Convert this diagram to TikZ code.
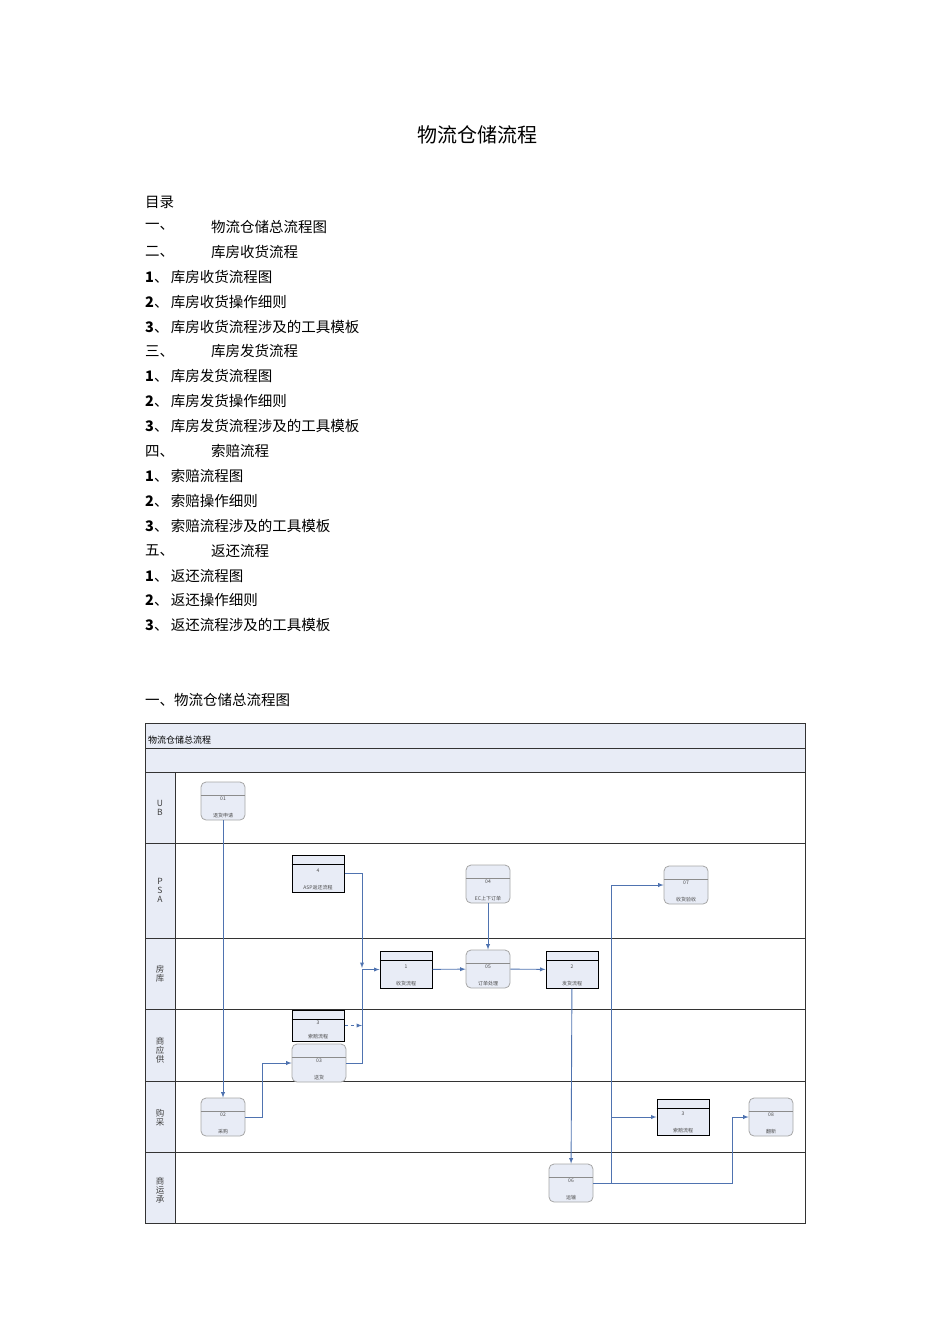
\documentclass[tikz,border=0pt]{standalone}
\usepackage{fontspec}
\setmainfont{Liberation Serif}
\newfontfamily\cjk{Noto Sans CJK SC}
\definecolor{lb}{RGB}{232,236,246}
\definecolor{ln}{RGB}{79,115,176}
\begin{document}
\begin{tikzpicture}[x=1pt,y=-1pt,
  fl/.style={draw=black!80,line width=0.5pt,fill=lb},
  cn/.style={draw=ln,line width=0.9pt,-latex},
  tiny/.style={font=\cjk\fontsize{5}{5}\selectfont,text=black!70,inner sep=0pt},
  toc/.style={anchor=west,font=\cjk\fontsize{14.5}{14.5}\selectfont,inner sep=0pt}]
\useasboundingbox (0,0) rectangle (950,1344);
\node (title) at (477,135) {\cjk\fontsize{20}{20}\selectfont 物流仓储流程};
\node[toc] (t0) at (145,202) {目录};
\foreach \i/\a/\b in {1/一、/物流仓储总流程图,2/二、/库房收货流程,6/三、/库房发货流程,10/四、/索赔流程,14/五、/返还流程}{
  \node[toc] (a\i) at (145,202+24.9*\i) {\a};
  \node[toc] (b\i) at (211,202+24.9*\i) {\b};}
\foreach \i/\n/\b in {3/1/库房收货流程图,4/2/库房收货操作细则,5/3/库房收货流程涉及的工具模板,
 7/1/库房发货流程图,8/2/库房发货操作细则,9/3/库房发货流程涉及的工具模板,
 11/1/索赔流程图,12/2/索赔操作细则,13/3/索赔流程涉及的工具模板,
 15/1/返还流程图,16/2/返还操作细则,17/3/返还流程涉及的工具模板}{
  \node[toc] (c\i) at (145,202+24.9*\i) {\textbf{\n}、\,\b};}
\node[toc] (sec) at (145,700) {一、物流仓储总流程图};
% frame
\draw[fl] (145,723) rectangle (805,748);
\node[anchor=west,font=\cjk\fontsize{9}{9}\selectfont,inner sep=0pt] (hdr) at (148,740) {物流仓储总流程};
\draw[fl] (145,748) rectangle (805,772);
\foreach \t/\b in {772/843,843/938,938/1009,1009/1081,1081/1152,1152/1223}{
  \draw[black!80,line width=0.6pt] (145,\t) rectangle (805,\b);
  \draw[fl] (145,\t) rectangle (175,\b);}
\foreach \y/\t in {808/{U\\B},890/{P\\S\\A},974/{房\\库},1050/{商\\应\\供},1118/{购\\采},1190/{商\\运\\承}}
  \node[align=center,font=\cjk\fontsize{8.5}{9}\selectfont,text=black!75] at (160,\y) {\t};
% rounded nodes
\foreach \n/\x/\y/\w/\num/\lab in {n01/223/801/44/01/退货申请,n04/488/884/44/04/EC上下订单,n07/686/885/44/07/收货验收,
 n05/488/969/44/05/订单处理,n03/319/1063/54/03/送货,n02/223/1117/44/02/采购,n08/771/1117/44/08/翻新,n06/571/1183/44/06/运输}{
  \node[draw=black!35,line width=0.8pt,fill=lb,rounded corners=5pt,minimum width=\w pt,minimum height=38pt,inner sep=0pt] (\n) at (\x,\y) {};
  \draw[black!45] (\n.west|-{0,\y-6}) -- (\n.east|-{0,\y-6});
  \node[tiny] at (\x,\y-2) {\num};
  \node[tiny] at (\x,\y+15) {\lab};}
% process rects
\foreach \n/\x/\y/\h/\num/\lab in {p4/318/873.5/37/4/ASP返还流程,p1/406/969.5/37/1/收货流程,p2/572/969.5/37/2/发货流程,
 p3a/318/1025.5/31/3/索赔流程,p3b/683/1117/36/3/索赔流程}{
  \node[draw=black,line width=1pt,fill=lb,minimum width=52pt,minimum height=\h pt,inner sep=0pt] (\n) at (\x,\y) {};
  \draw[black,line width=0.8pt] (\n.north west)++(0,10) -- ++(52,0);
  \node[tiny] at (\x,\y-3) {\num};
  \node[tiny] at (\x,\y+\h/2-4) {\lab};}
% connectors
\coordinate (j1) at (362,968);
\draw[cn] (n01) -- (n02);
\draw[cn] (n02.east) -- (262,1117) |- (n03.west);
\draw[cn] (n03.east) -- (362,1063) |- (p1.west);
\draw[cn] (p4.east) -| (j1);
\draw[cn,dashed] (p3a.east) -- (362,1025.5);
\draw[cn] (p1) -- (n05);
\draw[cn] (n05) -- (p2);
\draw[cn] (n04) -- (n05);
\draw[cn] (p2) -- (n06);
\draw[cn] (n06.east) -- (611,1183) |- (n07.west);
\draw[cn] (611,1117) -- (p3b.west);
\draw[cn] (n06.east) -- (732,1183) |- (n08.west);
\end{tikzpicture}
\end{document}
